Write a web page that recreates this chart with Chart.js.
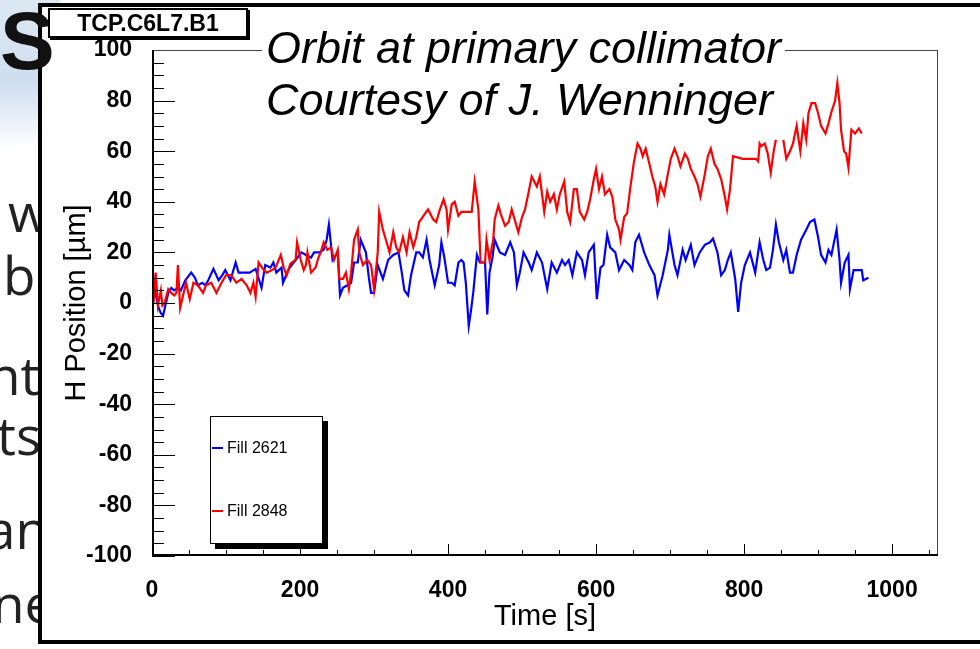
<!DOCTYPE html>
<html>
<head>
<meta charset="utf-8">
<script src="https://cdn.jsdelivr.net/npm/chart.js@4.4.1/dist/chart.umd.min.js"></script>
<style>
  html, body { margin: 0; padding: 0; }
  body { width: 980px; height: 649px; position: relative; overflow: hidden; background: #fff; font-family: 'Liberation Sans', Arial, sans-serif; }
  .band { position: absolute; left: 0; top: 0; width: 60px; height: 150px;
          background: linear-gradient(to bottom, #dde8f4 0%, #cfdeef 55%, #ffffff 100%); }
  .bigS { position: absolute; left: 0px; top: -6px; font: bold 82px 'Liberation Sans', Arial, sans-serif; color: #111; z-index: 5; }
  .frag { position: absolute; font: 53px 'Open Sans', sans-serif; color: #222; white-space: nowrap; }
  .pad { position: absolute; left: 38px; top: 3px; width: 980px; height: 633px; background: #fff;
         border: 4px solid #000; z-index: 1; }
  canvas { position: absolute; left: 0; top: 0; z-index: 2; }
  .tag { position: absolute; left: 48px; top: 8px; width: 196px; height: 26px; border: 2px solid #000;
         background: #fff; box-shadow: 2px 2px 0 #000; z-index: 6;
         font: bold 23px 'Liberation Sans', Arial, sans-serif; line-height: 27px; text-align: center; }
  .note { position: absolute; left: 265px; font: italic 45px 'Liberation Sans', Arial, sans-serif;
          line-height: 48px; white-space: nowrap; z-index: 3; color: #000; }
  .note.first { top: 24px; background: #fff; padding: 0 4px; left: 262px; }
  .note.second { top: 76px; left: 266px; }
  .legend { position: absolute; left: 210px; top: 416px; width: 111px; height: 126px; border: 1px solid #000;
            background: #fff; box-shadow: 5px 5px 0 #000; z-index: 3; }
  .legend .row { position: absolute; left: 1px; height: 20px; font: 16px 'Liberation Sans', Arial, sans-serif; line-height: 20px; }
  .legend .swatch { display: inline-block; width: 11px; height: 2px; vertical-align: middle; margin-right: 4px; position: relative; top: -1px; }
</style>
</head>
<body>
<div class="band"></div>
<div class="bigS">S</div>
<div class="frag" style="left:8px; top:175px;">w</div>
<div class="frag" style="left:3px; top:238px;">bo</div>
<div class="frag" style="left:-12px; top:338px;">nti</div>
<div class="frag" style="left:-3px; top:398px;">ts</div>
<div class="frag" style="left:-14px; top:492px;">an</div>
<div class="frag" style="left:-8px; top:566px;">ne</div>
<div class="pad"></div>
<canvas id="orbitChart" width="980" height="649"></canvas>
<div class="tag">TCP.C6L7.B1</div>
<div class="note first">Orbit at primary collimator</div>
<div class="note second">Courtesy of J. Wenninger</div>
<div class="legend" id="legend"></div>

<script>
const seriesNames = ['Fill 2621', 'Fill 2848'];
const seriesColors = ['#0000ff', '#ff0000'];

// Fill 2621 (blue)
const blueTime = [
  0, 3, 6, 9, 12, 15, 18, 22, 26, 30,
  35, 39, 45, 53, 58, 62, 68, 72, 76, 83,
  90, 95, 99, 106, 113, 117, 125, 132, 140, 148,
  153, 160, 164, 168, 175, 177, 185, 194, 202, 208,
  215, 219, 226, 232, 236, 239, 244, 251, 254, 258,
  264, 269, 273, 278, 282, 289, 293, 296, 300, 305,
  312, 319, 326, 333, 337, 341, 346, 350, 357, 361,
  366, 371, 375, 382, 388, 391, 395, 400, 405, 409,
  414, 418, 421, 424, 428, 431, 434, 439, 443, 450,
  453, 456, 460, 463, 470, 477, 484, 489, 493, 497,
  502, 509, 513, 520, 527, 531, 534, 540, 547, 554,
  558, 563, 568, 574, 581, 585, 590, 597, 601, 606,
  610, 615, 619, 626, 631, 638, 645, 649, 653, 658,
  665, 672, 679, 683, 690, 697, 699, 706, 710, 717,
  721, 728, 733, 740, 747, 754, 758, 764, 769, 774,
  778, 782, 788, 792, 796, 801, 808, 815, 821, 826,
  830, 835, 839, 843, 847, 853, 857, 862, 866, 871,
  877, 884, 889, 895, 900, 904, 910, 914, 918, 925,
  929, 931, 936, 941, 943, 948, 955, 959, 961, 968
];
const bluePos = [
  15, 8, 2, -2, -4, -5, -1, 4, 6, 5,
  6, 5, 9, 12, 10, 7, 8, 7, 9, 13.5,
  9, 11, 13, 9, 16, 12, 12, 12, 13.5, 6,
  15, 14, 16, 12, 14, 8, 13.5, 17, 20, 19,
  18, 20, 20, 21, 25, 31, 17, 20, 3, 6,
  7, 8, 16, 16, 25, 20, 10, 4, 4, 15,
  9.5, 17, 19, 20, 13, 5, 3, 11, 20, 20,
  18, 25, 17, 7, 15, 24, 18, 8, 8, 7,
  16, 17, 16, 8, -9, -3, 4, 19, 16, 16,
  -4.5, 12, 18, 25, 20, 19, 24, 20, 7, 12,
  20, 16, 13, 20, 16, 10, 5.5, 16, 12, 17,
  15, 17, 11, 20, 17, 11, 20, 23, 1.5, 14,
  15, 27, 22, 20, 13, 17, 15, 13, 24, 27,
  20, 15, 11, 3, 11, 21, 27, 15, 11, 21,
  17, 23, 15, 20, 23, 24, 25.5, 20, 11, 13,
  17, 20, 9.5, -3.5, 8, 15, 20, 12, 24, 17,
  13, 14, 21, 31, 24, 17, 21, 12, 12, 19,
  25, 29, 32, 33, 26, 19, 16, 21, 19, 29,
  17, 8, 16, 19, 5.5, 13, 13, 13, 9, 10
];

// Fill 2848 (red), null = gap in the logging
const redTime = [
  0, 2, 5, 8, 12, 14, 17, 22, 26, 30,
  33, 35, 38, 42, 46, 51, 56, 62, 69, 73,
  80, 87, 94, 100, 107, 114, 121, 128, 133, 137,
  140, 144, 151, 155, 162, 167, 174, 178, 182, 187,
  194, 196, 201, 205, 208, 210, 215, 221, 225, 228,
  232, 237, 242, 246, 251, 253, 258, 262, 266, 269,
  273, 278, 280, 285, 291, 296, 300, 305, 307, 312,
  316, 321, 326, 330, 334, 339, 344, 348, 353, 357,
  361, 367, 373, 380, 384, 389, 394, 398, 400, 405,
  409, 414, 418, 425, 432, 436, 441, 444, 450, 452,
  456, 461, 463, 468, 472, 477, 482, 486, 490, 495,
  500, 504, 509, 513, 520, 524, 530, 534, 538, 543,
  547, 551, 557, 561, 565, 570, 574, 578, 584, 588,
  592, 597, 600, 604, 608, 612, 618, 622, 626, 631,
  633, 638, 642, 646, 651, 656, 660, 663, 667, 672,
  676, 680, 683, 687, 692, 697, 701, 706, 710, 714,
  720, 724, 728, 733, 737, 741, 747, 751, 755, 760,
  764, 769, 774, 777, 781, 785, 798, 816, 819, 821,
  823, 828, 832, 836, 840, 843, 848, 853, 857, 862,
  866, 871, 876, 880, 884, 887, 891, 896, 900, 904,
  910, 914, 918, 923, 926, 929, 931, 935, 938, 941,
  945, 950, 955, 959
];
const redPos = [
  15, 0, 12, -1, 5, -1, 0, 5.5, 4, 3,
  4, 15, -2, 3, 8, 1.5, 8, 7, 4, 7,
  8, 4, 8, 11, 11, 8, 9.5, 7, 4, 8,
  2.5, 16, 13, 12, 13, 14, 19, 14, 11, 15.5,
  17, 24, 17, 13, 15, 20, 12, 14, 18, 20,
  24, 21, 22, 17, 21, 9.5, 9.5, 12, 5.5, 12,
  25, 29, 20, 15, 17, 15, 5.5, 20, 36, 29,
  25, 20, 28, 22, 20, 26, 20, 28, 22, 26,
  32, 34.5, 37, 33, 32, 37, 41, 37, 29, 39,
  40, 34.5, 36, 36, 36, 48, 37, 16, 16, 25,
  17, 25, 33, 38.5, 34.5, 30.5, 32, 37, 33, 28,
  34, 37, 44, 50, 46, 50, 36, 44, 40, 43,
  37, 43, 48, 36, 32, 45, 45, 36, 33, 36,
  41, 49, 53, 45, 50, 43, 45, 42, 33, 29,
  25, 34, 35.5, 45, 55.5, 63, 61, 58, 61, 55,
  50, 46, 40, 47, 43, 51, 57, 61, 58, 54,
  59, 57, 53, 50, 47, 42, 51, 58, 61, 55,
  53, 49, 42, 37, 45, 58, 57, 57, 56, 63,
  62, 63, 59, 51.5, 60, 64.5, null, 64.5, 57, 60,
  63, 70, 60, 71, 64.5, 75, 79, 79, 75, 70,
  67, 71, 75.5, 80, 87, 79, 68.5, 60, 59, 53.5,
  68.5, 67, 69, 67
];

const xTickValues = [0, 200, 400, 600, 800, 1000];
const yTickValues = [-100, -80, -60, -40, -20, 0, 20, 40, 60, 80, 100];
const xTitle = 'Time [s]';
const yTitle = 'H Position [\u00b5m]';

function toPoints(times, values) {
  return times.map((t, i) => ({ x: t, y: values[i] }));
}

// ROOT-style frame with inward major/minor ticks
const rootFrame = {
  id: 'rootFrame',
  afterDraw(chart) {
    const { ctx, chartArea: a, scales } = chart;
    ctx.save();
    ctx.strokeStyle = '#000';
    ctx.lineWidth = 1;
    for (let v = -100; v <= 100; v += 5) {
      const y = Math.round(scales.y.getPixelForValue(v)) + 0.5;
      const len = v % 20 === 0 ? 23 : 12;
      ctx.beginPath();
      ctx.moveTo(a.left, y);
      ctx.lineTo(a.left + len, y);
      ctx.stroke();
    }
    for (let v = 0; v <= 1050; v += 50) {
      const x = Math.round(scales.x.getPixelForValue(v)) + 0.5;
      const len = v % 200 === 0 ? 12 : 6;
      ctx.beginPath();
      ctx.moveTo(x, a.bottom);
      ctx.lineTo(x, a.bottom - len);
      ctx.stroke();
    }
    ctx.strokeStyle = '#444';
    ctx.strokeRect(a.left + 0.5, a.top + 0.5, a.right - a.left - 1, a.bottom - a.top - 1);
    ctx.strokeStyle = '#000';
    ctx.lineWidth = 2;
    ctx.beginPath();
    ctx.moveTo(a.left + 1, a.top);
    ctx.lineTo(a.left + 1, a.bottom - 1);
    ctx.lineTo(a.right, a.bottom - 1);
    ctx.stroke();
    ctx.restore();
  }
};

const labelFont = { family: "'Liberation Sans', Arial, sans-serif", size: 23, weight: 'bold' };
const titleFont = { family: "'Liberation Sans', Arial, sans-serif", size: 29 };

const ctx = document.getElementById('orbitChart').getContext('2d');
new Chart(ctx, {
  type: 'line',
  data: {
    datasets: [
      {
        label: seriesNames[0],
        data: toPoints(blueTime, bluePos),
        borderColor: seriesColors[0],
        borderWidth: 2.2,
        pointRadius: 0,
        tension: 0,
        order: 2
      },
      {
        label: seriesNames[1],
        data: toPoints(redTime, redPos),
        borderColor: seriesColors[1],
        borderWidth: 2.2,
        pointRadius: 0,
        tension: 0,
        spanGaps: false,
        order: 1
      }
    ]
  },
  options: {
    responsive: false,
    animation: false,
    layout: { padding: { top: 50, right: 42, bottom: 0, left: 0 } },
    plugins: {
      legend: { display: false },
      tooltip: { enabled: false }
    },
    scales: {
      x: {
        type: 'linear',
        min: 0,
        max: 1062,
        afterFit: s => { s.height = 93; },
        afterBuildTicks: s => { s.ticks = xTickValues.map(v => ({ value: v })); },
        grid: { display: false, drawTicks: false },
        border: { display: false },
        ticks: { color: '#000', font: labelFont, padding: 21, maxRotation: 0, autoSkip: false,
                 callback: v => String(v) },
        title: { display: true, text: xTitle, color: '#000', font: titleFont, padding: { top: 0, bottom: 15 } }
      },
      y: {
        type: 'linear',
        min: -100,
        max: 100,
        afterFit: s => { s.width = 152; },
        afterBuildTicks: s => { s.ticks = yTickValues.map(v => ({ value: v })); },
        grid: { display: false, drawTicks: false },
        border: { display: false },
        ticks: { color: '#000', font: labelFont, padding: 20, autoSkip: false,
                 callback: v => String(v) },
        title: { display: true, text: yTitle, color: '#000', font: titleFont, padding: { top: 60, bottom: 0 } }
      }
    }
  },
  plugins: [rootFrame]
});

// legend box, ROOT style
const legend = document.getElementById('legend');
const rowTops = [21, 84];
seriesNames.forEach((name, i) => {
  const row = document.createElement('div');
  row.className = 'row';
  row.style.top = rowTops[i] + 'px';
  row.innerHTML = '<span class="swatch" style="background:' + seriesColors[i] + '"></span>' + name;
  legend.appendChild(row);
});
</script>
</body>
</html>
